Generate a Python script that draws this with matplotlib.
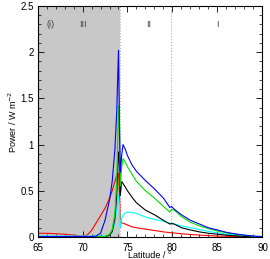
import matplotlib
matplotlib.use('Agg')
import numpy as np
import matplotlib.pyplot as plt
from matplotlib.ticker import MultipleLocator

plt.rcParams['font.family'] = ['Liberation Sans', 'DejaVu Sans']

lat = [65, 66, 67, 68, 69, 70, 70.5, 71, 71.5, 72, 72.5, 73, 73.3, 73.6, 73.8, 74.0, 74.1, 74.2,
       74.35, 74.5, 74.75, 75, 75.5, 76, 76.5, 77, 78, 79, 79.7, 79.9, 80.2, 81, 82, 83, 84, 85, 86, 87, 88, 89, 90]

blue = [0.005, 0.005, 0.005, 0.005, 0.005, 0.005, 0.005, 0.006, 0.01, 0.04, 0.18, 0.4, 0.6, 0.95, 1.35, 2.02, 1.3, 0.7,
        0.88, 1.0, 0.95, 0.88, 0.78, 0.71, 0.66, 0.61, 0.52, 0.42, 0.32, 0.33, 0.30, 0.24, 0.18, 0.14, 0.10, 0.076, 0.05, 0.033, 0.02, 0.01, 0.004]
green = [0.004, 0.004, 0.004, 0.004, 0.004, 0.004, 0.004, 0.004, 0.004, 0.004, 0.005, 0.03, 0.08, 0.25, 0.6, 1.42, 1.1, 0.55,
         0.75, 0.85, 0.81, 0.76, 0.68, 0.60, 0.55, 0.50, 0.42, 0.33, 0.27, 0.30, 0.29, 0.22, 0.16, 0.12, 0.09, 0.065, 0.045, 0.03, 0.018, 0.009, 0.004]
black = [0.003, 0.003, 0.003, 0.003, 0.003, 0.003, 0.003, 0.003, 0.003, 0.003, 0.003, 0.02, 0.06, 0.2, 0.45, 0.92, 0.8, 0.45,
         0.6, 0.58, 0.54, 0.50, 0.43, 0.37, 0.33, 0.29, 0.24, 0.18, 0.14, 0.145, 0.14, 0.10, 0.076, 0.055, 0.04, 0.03, 0.02, 0.012, 0.007, 0.003, 0.0]
cyan = [0.01, 0.01, 0.01, 0.01, 0.01, 0.01, 0.01, 0.01, 0.01, 0.01, 0.01, 0.02, 0.05, 0.15, 0.3, 0.45, 0.35, 0.1,
        0.2, 0.24, 0.26, 0.27, 0.265, 0.256, 0.235, 0.215, 0.19, 0.17, 0.15, 0.15, 0.14, 0.12, 0.10, 0.08, 0.06, 0.045, 0.03, 0.02, 0.01, 0.005, 0.0]
red = [0.04, 0.04, 0.035, 0.03, 0.02, 0.01, 0.02, 0.07, 0.15, 0.23, 0.31, 0.42, 0.5, 0.6, 0.67, 0.69, 0.5, 0.2,
       0.15, 0.15, 0.14, 0.13, 0.11, 0.10, 0.092, 0.085, 0.07, 0.055, 0.048, 0.045, 0.043, 0.035, 0.027, 0.02, 0.015, 0.01, 0.007, 0.005, 0.003, 0.002, 0.001]

bounds = [74.2, 79.8]
regions = ['(i)', 'III', 'II', 'I']
region_x = [66.5, 70, 77.3, 85]

fig = plt.figure(figsize=(2.70, 2.59), dpi=100)
ax = fig.add_axes([0.139, 0.085, 0.833, 0.892])

ax.axvspan(65, bounds[0], color='#c8c8c8', lw=0)
for b in bounds:
    ax.axvline(b, color='#b0b0b0', ls=':', lw=0.8)

for vals, c in [(red, 'red'), (cyan, 'cyan'), (black, 'black'), (green, '#00e000'), (blue, 'blue')]:
    ax.plot(lat, vals, color=c, lw=0.8)

for t, x in zip(regions, region_x):
    ax.text(x, 2.3, t, fontsize=6.5, color='#444444', ha='center', va='center')

ax.set_xlim(65, 90)
ax.set_ylim(0, 2.5)
ax.xaxis.set_major_locator(MultipleLocator(5))
ax.xaxis.set_minor_locator(MultipleLocator(1))
ax.yaxis.set_major_locator(MultipleLocator(0.5))
ax.yaxis.set_minor_locator(MultipleLocator(0.1))
ax.set_yticks([0, 0.5, 1, 1.5, 2, 2.5])
ax.set_yticklabels(['0', '0.5', '1', '1.5', '2', '2.5'])
ax.tick_params(which='both', direction='in', top=True, right=True, labelsize=7)
ax.tick_params(axis='x', pad=4)
ax.tick_params(axis='y', pad=2.5)
ax.tick_params(which='major', length=4, width=0.6)
ax.tick_params(which='minor', length=2, width=0.5)
for s in ax.spines.values():
    s.set_linewidth(0.8)

ax.set_xlabel('Latitude / °', fontsize=6.5, labelpad=-1)
ax.set_ylabel('Power / W m$^{-2}$', fontsize=6.5, labelpad=1.5)

plt.savefig('out.png', dpi=100)
